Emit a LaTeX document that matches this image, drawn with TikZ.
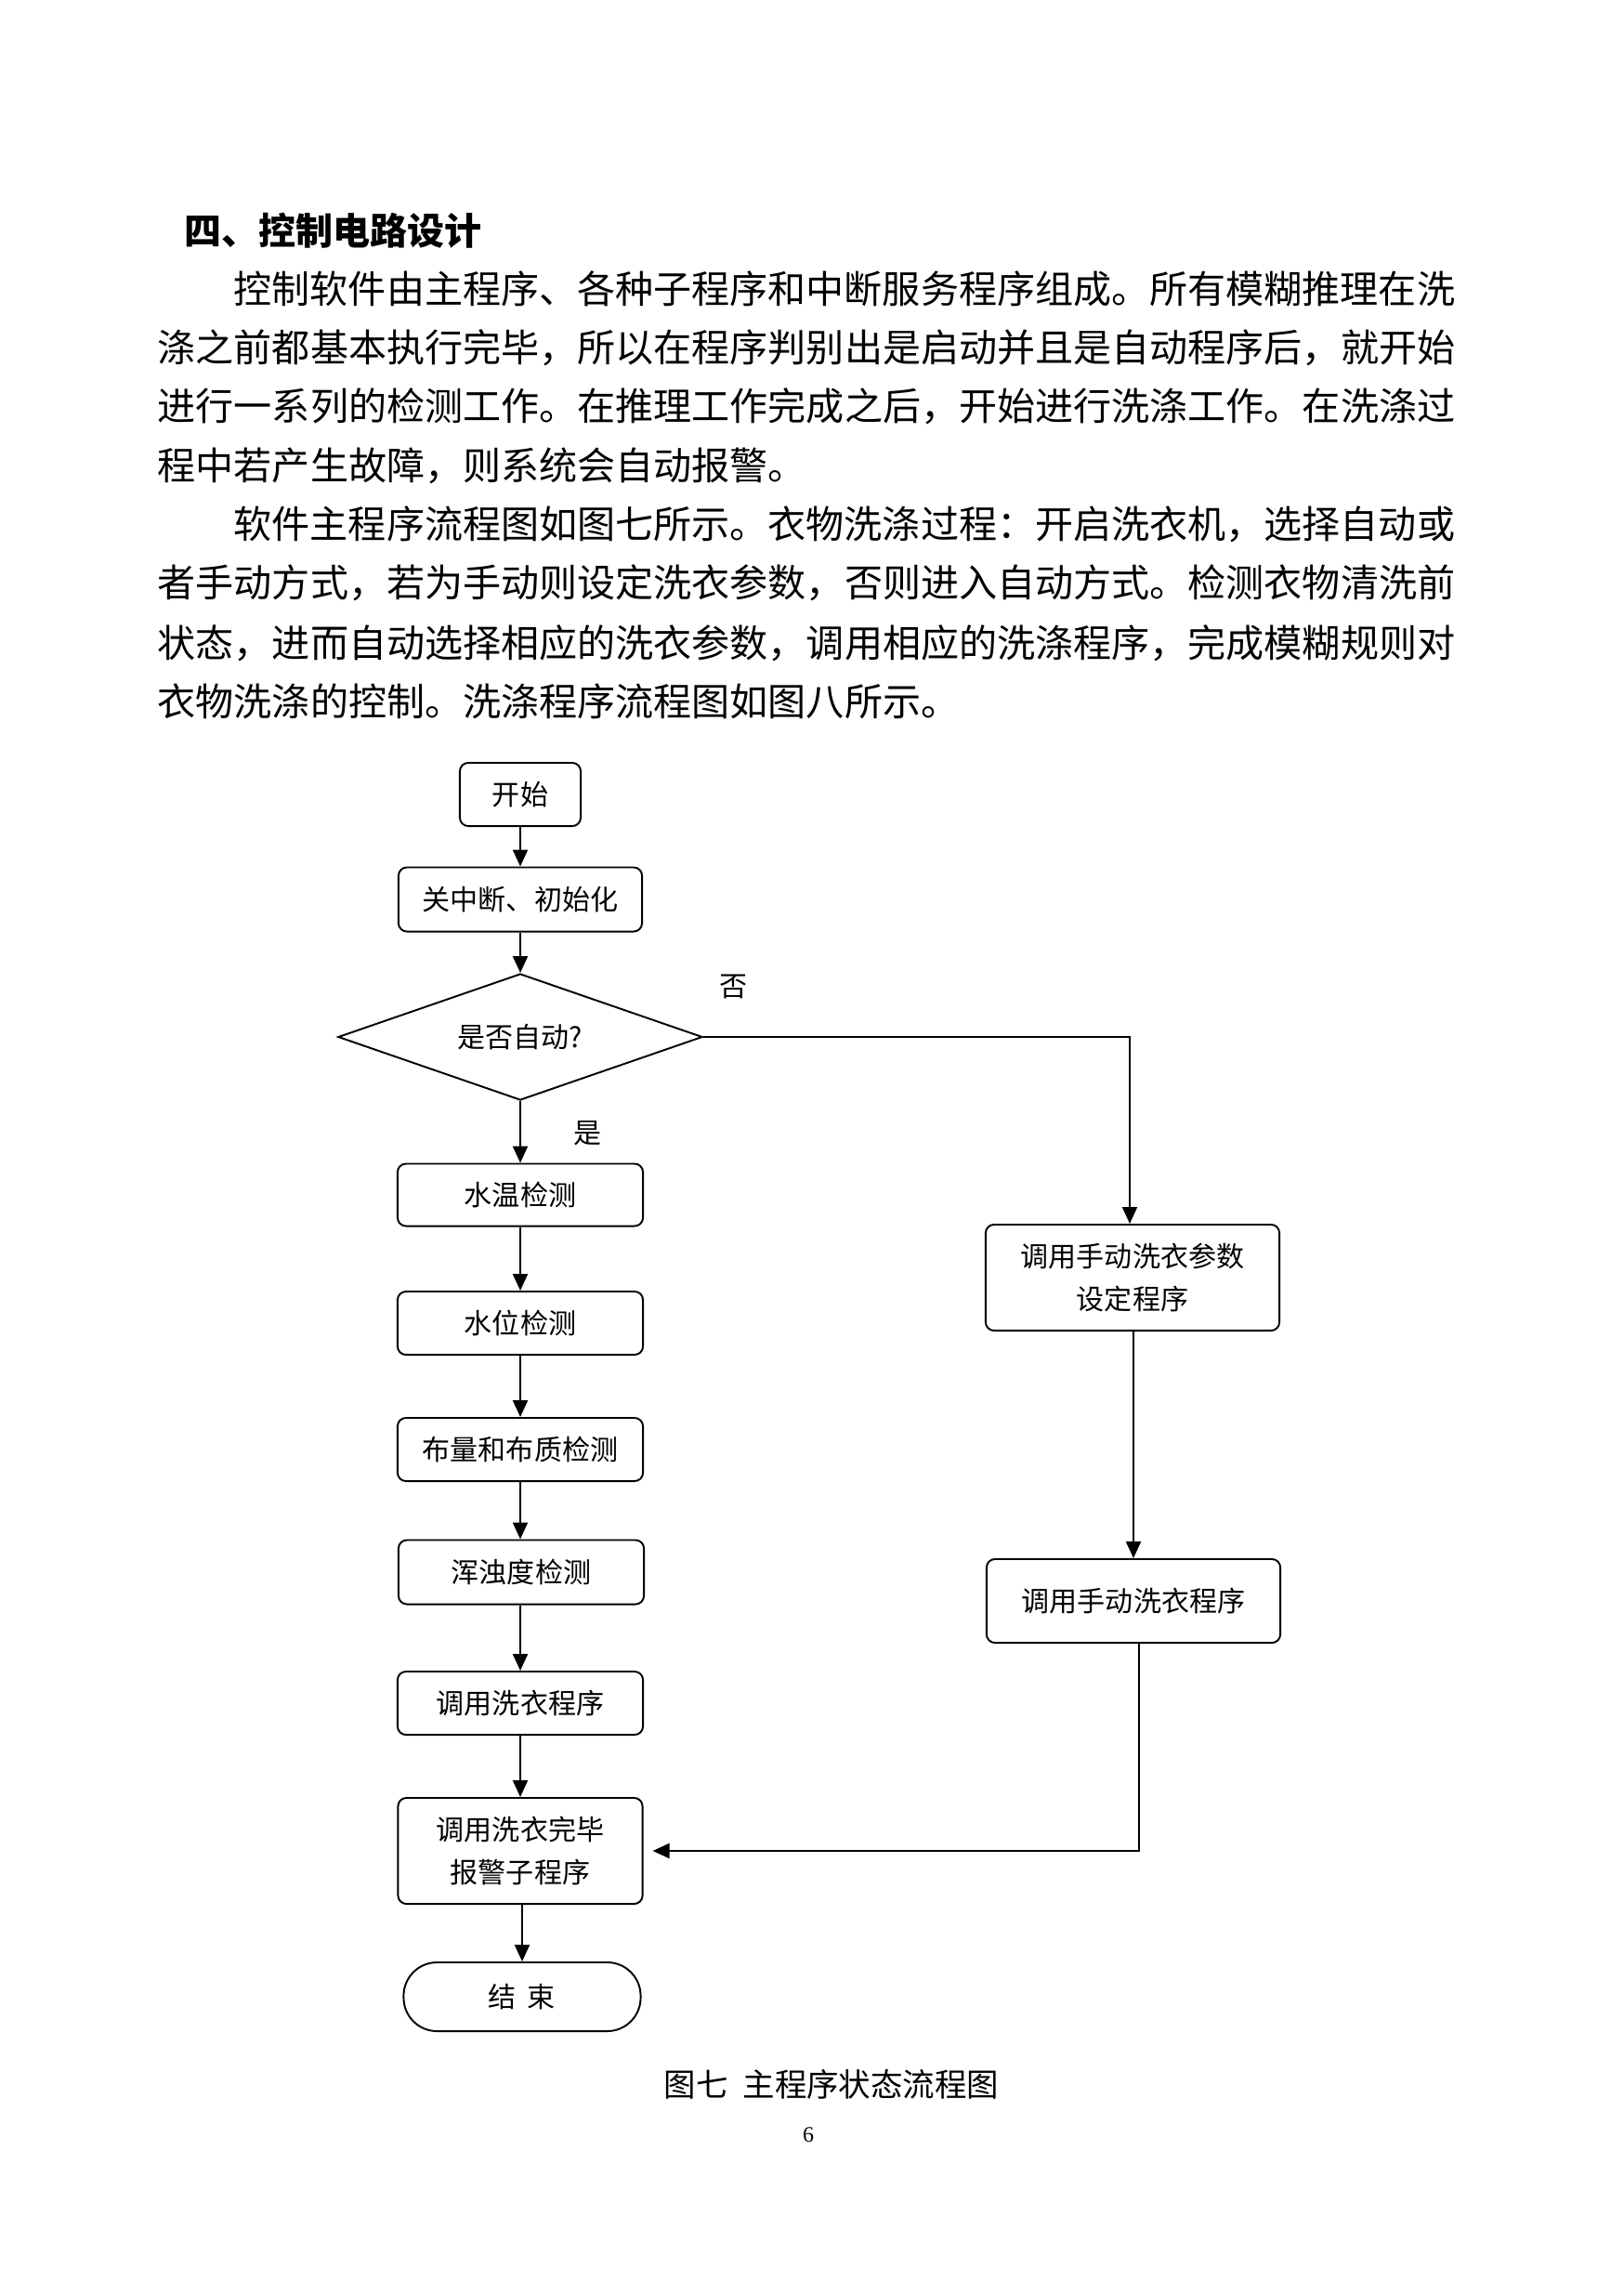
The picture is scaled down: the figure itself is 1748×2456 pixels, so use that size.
\documentclass[tikz,border=0pt]{standalone}
\usepackage{fontspec}
\setmainfont{Noto Sans CJK SC}
\newfontfamily\serifnum{Liberation Serif}
\usetikzlibrary{shapes.geometric,arrows.meta}
\newcommand\parafont{\fontsize{11.68pt}{14pt}\selectfont}
\newcommand\headfont{\fontsize{11.38pt}{14pt}\selectfont\bfseries}
\newcommand\boxfont{\fontsize{8.54pt}{12.9pt}\selectfont}
\newcommand\capfont{\fontsize{9.8pt}{12pt}\selectfont}
\tikzset{
  box/.style={draw, line width=0.55pt, rounded corners=0.09cm, inner sep=0pt, font=\boxfont, align=center},
  arr/.style={-{Triangle[length=0.18cm,width=0.16cm]}, line width=0.6pt},
  para/.style={anchor=west, inner sep=0pt, font=\parafont},
  lbl/.style={inner sep=0pt, font=\boxfont},
}
\begin{document}
\begin{tikzpicture}[x=0.01cm,y=-0.01cm]
\fill[white] (0,0) rectangle (1748,2456);
\useasboundingbox (0,0) rectangle (1748,2456);

% heading and text
\node[anchor=west, inner sep=0pt, font=\headfont] (head) at (198,248) {四、控制电路设计};
\node[para] (p1) at (251,311) {控制软件由主程序、各种子程序和中断服务程序组成。所有模糊推理在洗};
\node[para] (p2) at (169,374) {涤之前都基本执行完毕，所以在程序判别出是启动并且是自动程序后，就开始};
\node[para] (p3) at (169,437) {进行一系列的检测工作。在推理工作完成之后，开始进行洗涤工作。在洗涤过};
\node[para] (p4) at (169,501) {程中若产生故障，则系统会自动报警。};
\node[para] (p5) at (251,564) {软件主程序流程图如图七所示。衣物洗涤过程：开启洗衣机，选择自动或};
\node[para] (p6) at (169,627) {者手动方式，若为手动则设定洗衣参数，否则进入自动方式。检测衣物清洗前};
\node[para] (p7) at (169,692) {状态，进而自动选择相应的洗衣参数，调用相应的洗涤程序，完成模糊规则对};
\node[para] (p8) at (169,755) {衣物洗涤的控制。洗涤程序流程图如图八所示。};

% flowchart nodes
\node[box, minimum width=1.30cm, minimum height=0.68cm] (start) at (560,855) {开始};
\node[box, minimum width=2.62cm, minimum height=0.69cm] (init) at (560,968) {关中断、初始化};
\node[diamond, draw, line width=0.55pt, inner sep=0pt, aspect=2.88, minimum width=3.92cm, minimum height=1.36cm, font=\boxfont] (dec) at (560,1116) {是否自动?};
\node[box, minimum width=2.64cm, minimum height=0.67cm] (t1) at (560,1286) {水温检测};
\node[box, minimum width=2.64cm, minimum height=0.68cm] (t2) at (560,1424) {水位检测};
\node[box, minimum width=2.64cm, minimum height=0.68cm] (t3) at (560,1560) {布量和布质检测};
\node[box, minimum width=2.64cm, minimum height=0.69cm] (t4) at (561,1692) {浑浊度检测};
\node[box, minimum width=2.64cm, minimum height=0.68cm] (t5) at (560,1833) {调用洗衣程序};
\node[box, minimum width=2.63cm, minimum height=1.14cm] (alarm) at (560,1992) {调用洗衣完毕\\报警子程序};
\node[box, rounded corners=0.36cm, minimum width=2.55cm, minimum height=0.74cm] (stop) at (562,2149) {结\hspace{0.12cm}束};
\node[box, minimum width=3.16cm, minimum height=1.14cm] (m1) at (1219,1375) {调用手动洗衣参数\\设定程序};
\node[box, minimum width=3.16cm, minimum height=0.90cm] (m2) at (1220,1723) {调用手动洗衣程序};

% labels
\node[lbl] (no) at (790,1062) {否};
\node[lbl] (yes) at (633,1220) {是};

% connectors
\draw[arr] (start) -- (init);
\draw[arr] (init) -- (dec);
\draw[arr] (dec) -- (t1);
\draw[arr] (t1) -- (t2);
\draw[arr] (t2) -- (t3);
\draw[arr] (t3) -- (t4.north -| t3.south);
\draw[arr] (t4.south -| t5.north) -- (t5);
\draw[arr] (t5) -- (alarm);
\draw[arr] (alarm.south -| stop.north) -- (stop);
\draw[arr] (dec.east) -| ([xshift=-0.03cm]m1.north);
\draw[arr] (m1.south -| m2.north) -- (m2);
\draw[arr, shorten >=0.1cm] ([xshift=0.06cm]m2.south) |- (alarm.east);

% caption and page number
\node[inner sep=0pt, font=\capfont] (cap) at (895,2243) {图七\hspace{0.16cm}主程序状态流程图};
\node[inner sep=0pt, font=\serifnum\fontsize{6.8pt}{8pt}\selectfont] (pg) at (870,2298) {6};
\end{tikzpicture}
\end{document}
